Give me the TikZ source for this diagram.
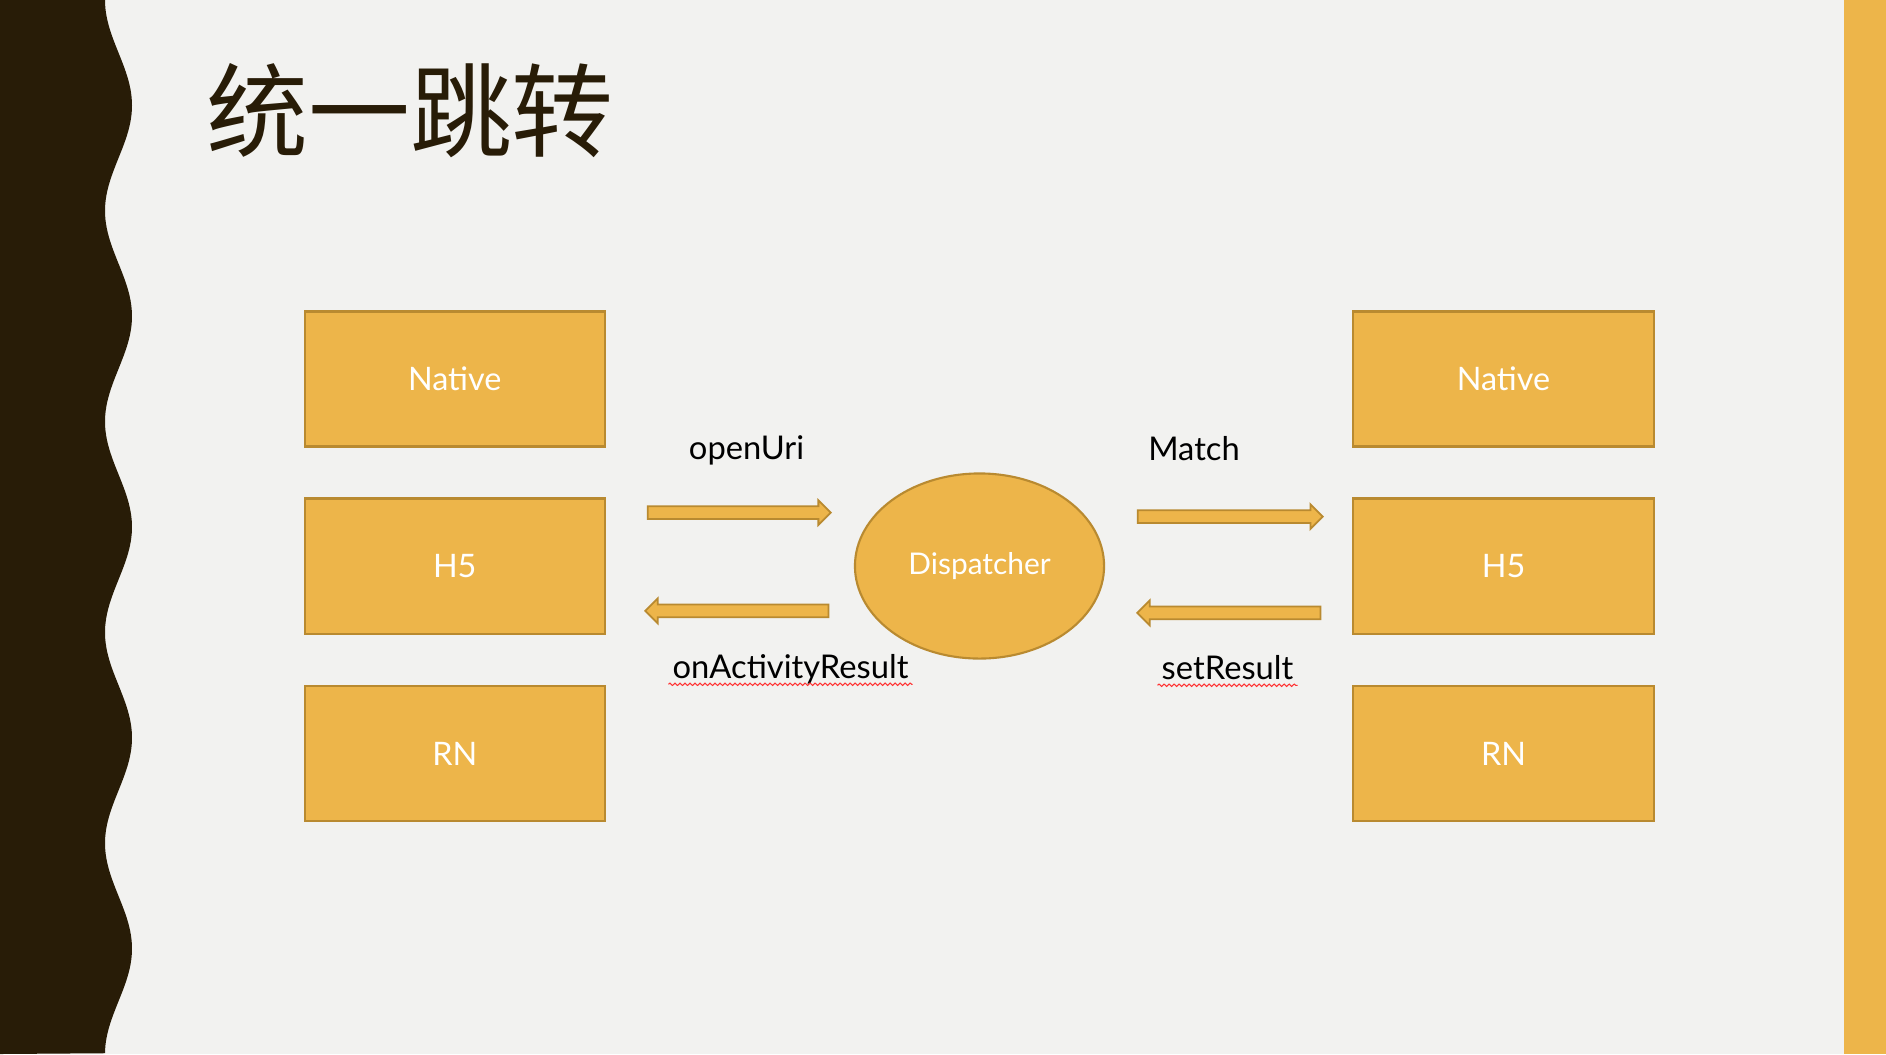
\documentclass[tikz,border=0pt]{standalone}
\usepackage{fontspec}
\setmainfont{Lato}
\newfontfamily\cjk{Noto Sans CJK SC}
\usetikzlibrary{shapes.geometric, shapes.arrows, decorations.pathmorphing}
\definecolor{slidebg}{HTML}{F2F2F0}
\definecolor{darkbrown}{HTML}{281C07}
\definecolor{gold}{HTML}{EDB54A}
\definecolor{goldline}{HTML}{B98A30}
\begin{document}
\begin{tikzpicture}[x=0.01cm, y=-0.01cm,
  box/.style={draw=goldline, fill=gold, line width=0.6pt, minimum width=3cm, minimum height=1.35cm, text=white, font=\fontsize{9.2}{11}\selectfont},
  blockarr/.style={single arrow, draw=goldline, fill=gold, line width=0.5pt, inner xsep=0pt, inner ysep=0.055cm, minimum height=1.83cm, single arrow head extend=0.06cm},
  lbl/.style={anchor=base, inner xsep=1pt, font=\fontsize{9.3}{11}\selectfont},
  squiggle/.style={red!80, line width=0.3pt, decorate, decoration={snake, segment length=0.05cm, amplitude=0.012cm}}]
\useasboundingbox (0,0) rectangle (1886,1054);
\fill[slidebg] (0,0) rectangle (1886,1054);
% wavy edge on the left, bar on the right
\fill[darkbrown] (0,0) -- plot[domain=0:5, samples=250] ({118.5-13.5*cos(360*\x)}, {210.8*\x}) -- (0,1054) -- cycle;
\fill[gold] (1844,0) rectangle (1886,1054);
\node[text=darkbrown, font=\cjk\fontsize{29}{32}\selectfont] (title) at (410,111) {统一跳转};
% the two columns
\foreach \t/\y in {Native/379, H5/566, RN/753.5} {
  \node[box] (L\t) at (454.75,\y) {\t};
  \node[box] (R\t) at (1503.5,\y) {\t};
}
\node[ellipse, draw=goldline, fill=gold, line width=0.6pt, minimum width=2.49cm, minimum height=1.85cm, inner sep=0pt, text=white, font=\fontsize{8.5}{10}\selectfont] (disp) at (979.5,566) {Dispatcher};
% block arrows
\node[blockarr] (open) at (736,512.7) {};
\node[blockarr, shape border rotate=180] (back) at (740,610.8) {};
\node[blockarr, minimum height=1.85cm] (match) at (1227,516.7) {};
\node[blockarr, shape border rotate=180] (setres) at (1232,612.8) {};
\node[lbl] (openlbl) at (746.5,459.3) {openUri};
\node[lbl] (matchlbl) at (1194,460) {Match};
\node[lbl] (backlbl) at (790.5,678.3) {onActivityResult};
\node[lbl] (setlbl) at (1227.5,679.3) {setResult};
\draw[squiggle] ([yshift=-1.7pt]backlbl.base west) -- ([yshift=-1.7pt]backlbl.base east);
\draw[squiggle] ([yshift=-1.7pt]setlbl.base west) -- ([yshift=-1.7pt]setlbl.base east);
\end{tikzpicture}
\end{document}
